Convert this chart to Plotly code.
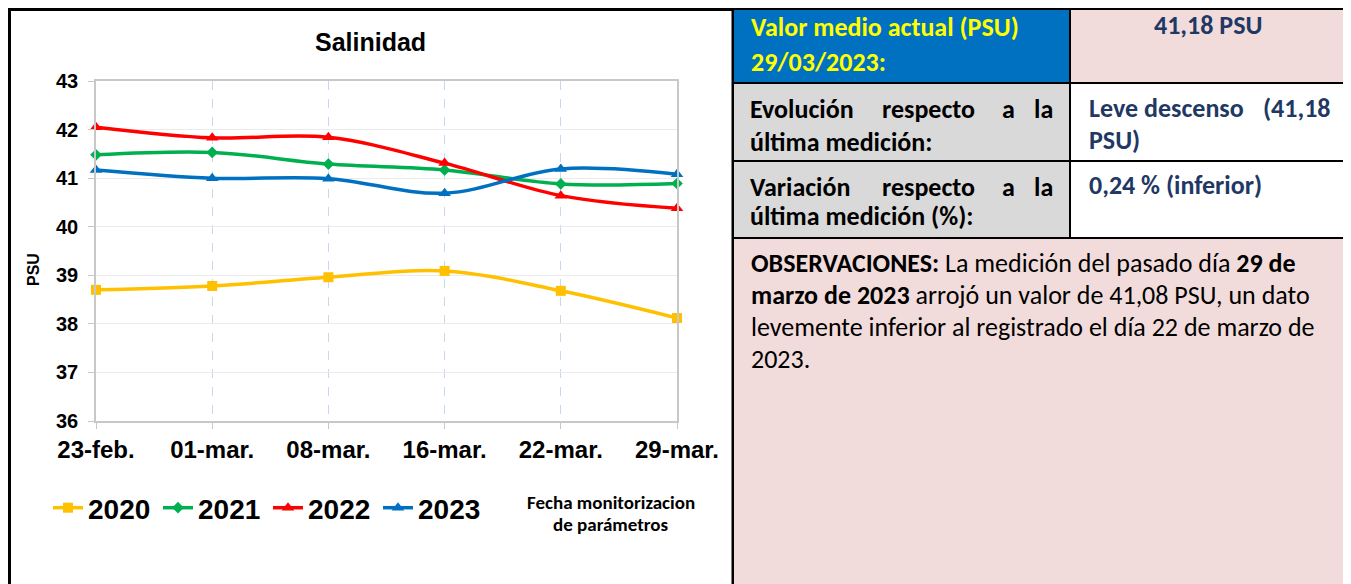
import plotly.graph_objects as go

# ---------------- data ----------------
categories = ["23-feb.", "01-mar.", "08-mar.", "16-mar.", "22-mar.", "29-mar."]
s2020 = [38.70, 38.78, 38.96, 39.09, 38.68, 38.12]
s2021 = [41.48, 41.53, 41.29, 41.17, 40.88, 40.89]
s2022 = [42.05, 41.83, 41.84, 41.31, 40.64, 40.38]
s2023 = [41.17, 41.00, 40.99, 40.69, 41.19, 41.08]
series_names = ["2020", "2021", "2022", "2023"]
y_ticks = [36, 37, 38, 39, 40, 41, 42, 43]

W, H = 1351, 584          # page size
OFF = 8                   # default page margin of the html body
L, R, T, B = 96, 677, 81, 421  # plot area in page pixels


def px(x):
    return (x - L) / (R - L)


def py(y):
    return (B - y) / (B - T)


colors = ["#FFC000", "#00B050", "#FF0000", "#0070C0"]
symbols = ["square", "diamond", "triangle-up", "triangle-up"]
msizes = [10, 9, 11, 11]

fig = go.Figure()
for name, vals, c, s, ms in zip(series_names, [s2020, s2021, s2022, s2023], colors, symbols, msizes):
    fig.add_trace(go.Scatter(
        x=categories, y=vals, name=name, mode="lines+markers",
        line=dict(color=c, width=3.5, shape="spline", smoothing=1.0),
        marker=dict(symbol=s, size=ms, color=c),
        cliponaxis=False,
    ))

ARIAL = "Liberation Sans, Arial, sans-serif"
CAL = "Carlito, Calibri, Lato, sans-serif"

fig.update_layout(
    width=W - OFF, height=H - OFF,
    margin=dict(l=L - OFF, r=W - R, t=T - OFF, b=H - B, pad=0),
    paper_bgcolor="white", plot_bgcolor="white",
    showlegend=True,
    legend=dict(orientation="h", x=px(48), y=py(508), xanchor="left", yanchor="middle",
                font=dict(family=ARIAL, size=28, color="black", weight="bold"),
                entrywidth=65, entrywidthmode="pixels",
                itemwidth=30, tracegroupgap=0, bgcolor="rgba(0,0,0,0)"),
    xaxis=dict(
        type="category", range=[0, 5], showgrid=True, gridcolor="#C5D9F1", griddash="dash", gridwidth=1,
        showline=True, linecolor="#C8C8C8", linewidth=1.5, mirror=True,
        ticks="outside", ticklen=6, tickcolor="#C8C8C8",
        tickfont=dict(family=ARIAL, size=24, color="black", weight="bold"),
        zeroline=False,
    ),
    yaxis=dict(
        range=[36, 43], tickvals=y_ticks, showgrid=True, gridcolor="#EBEBEB", gridwidth=1,
        showline=True, linecolor="#C8C8C8", linewidth=1.5, mirror=True,
        ticks="outside", ticklen=6, tickcolor="#C8C8C8", ticklabelstandoff=6,
        tickfont=dict(family=ARIAL, size=20, color="black", weight="bold"),
        zeroline=False,
    ),
)

annotations = [
    dict(x=px(370), y=py(42), text="<b>Salinidad</b>", xanchor="center", yanchor="middle",
         font=dict(family=ARIAL, size=25, color="black")),
    dict(x=px(33), y=py(270), text="<b>PSU</b>", textangle=-90, xanchor="center", yanchor="middle",
         font=dict(family=ARIAL, size=16, color="black")),
    dict(x=px(611), y=py(502), text="<b>Fecha monitorizacion</b>", xanchor="center", yanchor="middle",
         font=dict(family=CAL, size=19, color="black")),
    dict(x=px(611), y=py(524), text="<b>de parámetros</b>", xanchor="center", yanchor="middle",
         font=dict(family=CAL, size=19, color="black")),
]

NAVY = "#1F3864"
TS = 26


def ann(x, y, text, color="black", size=TS, anchor="left", bold=True):
    t = "<b>%s</b>" % text if bold else text
    annotations.append(dict(x=px(x), y=py(y), text=t, xanchor=anchor, yanchor="middle",
                            font=dict(family=CAL, size=size, color=color)))


# row 1
ann(749, 27, "Valor medio actual (PSU)", "#FFFF00")
ann(749, 62, "29/03/2023:", "#FFFF00")
ann(1208, 25, "41,18 PSU", NAVY, anchor="center")
# row 2
ann(748, 109, "Evolución")
ann(880, 109, "respecto")
ann(1000, 109, "a")
ann(1055, 109, "la", anchor="right")
ann(748, 142, "última medición:")
ann(1087, 108, "Leve", NAVY)
ann(1142, 108, "descenso", NAVY)
ann(1333, 108, "(41,18", NAVY, anchor="right")
ann(1087, 140, "PSU)", NAVY)
# row 3
ann(748, 187, "Variación")
ann(880, 187, "respecto")
ann(1000, 187, "a")
ann(1055, 187, "la", anchor="right")
ann(748, 216, "última medición (%):")
ann(1087, 185, "0,24 % (inferior)", NAVY)
# observations
obs = [
    "<b>OBSERVACIONES:</b> La medición del pasado día <b>29 de</b>",
    "<b>marzo de 2023</b> arrojó un valor de 41,08 PSU, un dato",
    "levemente inferior al registrado el día 22 de marzo de",
    "2023.",
]
for i, line in enumerate(obs):
    ann(749, 263 + 32 * i, line, "black", size=TS, bold=False)

fig.update_layout(annotations=[dict(a, xref="paper", yref="paper", showarrow=False) for a in annotations])

# ---------------- shapes (table cells and frames) ----------------
shapes = []


def rect(x0, y0, x1, y1, fill, lw=2):
    shapes.append(dict(type="rect", xref="paper", yref="paper", x0=px(x0), x1=px(x1), y0=py(y0), y1=py(y1),
                       fillcolor=fill, line=dict(color="black", width=lw), layer="below"))


# chart frame
shapes.append(dict(type="rect", xref="paper", yref="paper", x0=px(OFF + 1.5), x1=px(733), y0=py(OFF + 1.5),
                   y1=py(600), fillcolor="rgba(0,0,0,0)", line=dict(color="black", width=3), layer="below"))
rect(733, OFF + 1, 1070, 83, "#0070C0")
rect(1070, OFF + 1, 1348, 83, "#F2DCDB")
rect(733, 83, 1070, 161, "#D9D9D9")
rect(1070, 83, 1348, 161, "white")
rect(733, 161, 1070, 238, "#D9D9D9")
rect(1070, 161, 1348, 238, "white")
rect(733, 238, 1348, 600, "#F2DCDB")

fig.update_layout(shapes=shapes)

fig.write_html("out.html")
